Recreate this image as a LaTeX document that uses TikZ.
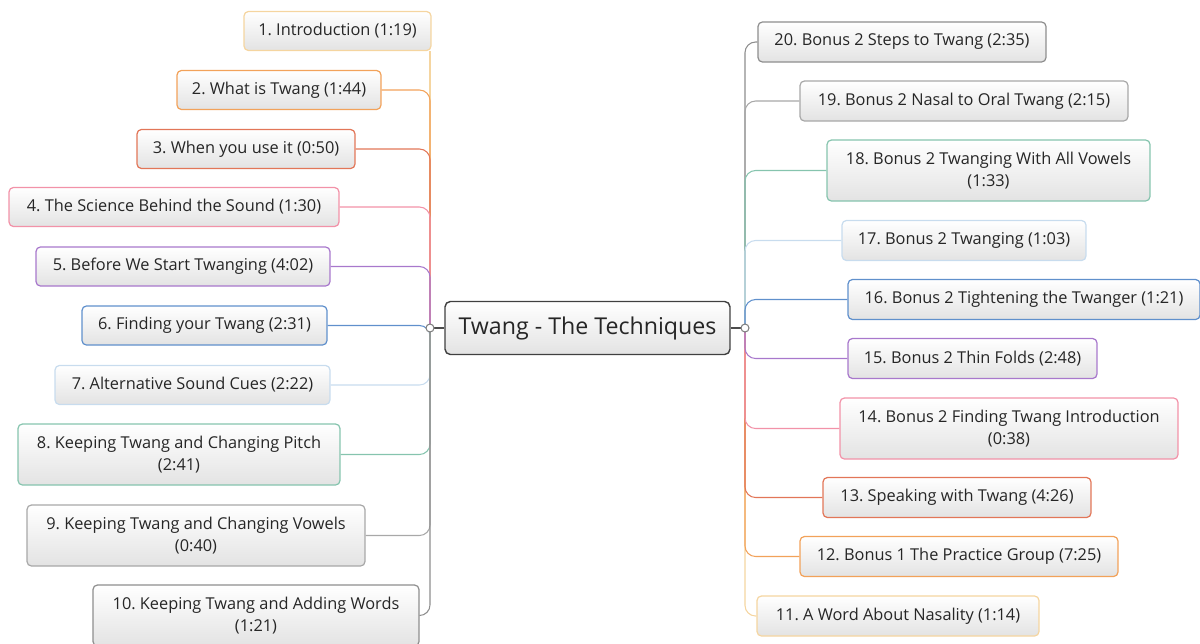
\documentclass[tikz,border=0pt]{standalone}
\usepackage{fontspec}
\setmainfont{Open Sans}
\usetikzlibrary{backgrounds}
\usepackage{xcolor}
\frenchspacing

\definecolor{cA}{HTML}{F5D5A0}
\definecolor{cB}{HTML}{F2A25A}
\definecolor{cC}{HTML}{E27658}
\definecolor{cD}{HTML}{F292A8}
\definecolor{cE}{HTML}{A878CC}
\definecolor{cF}{HTML}{6090CC}
\definecolor{cG}{HTML}{C8DCEE}
\definecolor{cH}{HTML}{86C4AE}
\definecolor{cI}{HTML}{A8A8A8}
\definecolor{cJ}{HTML}{8E8E8E}
\definecolor{ink}{HTML}{262626}

\tikzset{
 topic/.style={draw=#1, line width=0.7pt, rounded corners=2.5pt, top color=white, bottom color=gray!22,
   text=ink, font=\fontsize{9.3}{13}\selectfont, align=center, inner sep=2pt, minimum height=0.78cm},
 rootbox/.style={draw=black!75, line width=0.8pt, rounded corners=3pt, top color=white, bottom color=gray!22,
   text=ink, font=\fontsize{13.2}{16}\selectfont, minimum width=5.7cm, minimum height=1.06cm},
 hub/.style={circle, draw=gray, fill=white, line width=0.6pt, inner sep=0pt, minimum size=0.16cm},
 branch/.style={draw=#1, line width=0.6pt, rounded corners=6pt},
}

\begin{document}
\begin{tikzpicture}[x=0.02cm, y=-0.02cm]
\useasboundingbox (0,0) rectangle (1200,643);

\node[rootbox] (root) at (587.5,328) {Twang - The Techniques};
\node[hub] (lhub) at (430,328) {};
\node[hub] (rhub) at (745,328) {};

% left side
\node[topic=cA, minimum width=3.74cm] (t1) at (337.5,31) {1. Introduction (1:19)};
\node[topic=cB, minimum width=4.08cm] (t2) at (279,90) {2. What is Twang (1:44)};
\node[topic=cC, minimum width=4.36cm] (t3) at (246,149) {3. When you use it (0:50)};
\node[topic=cD, minimum width=6.6cm] (t4) at (174,207) {4. The Science Behind the Sound (1:30)};
\node[topic=cE, minimum width=5.88cm] (t5) at (183,266.5) {5. Before We Start Twanging (4:02)};
\node[topic=cF, minimum width=4.9cm] (t6) at (204.5,325.5) {6. Finding your Twang (2:31)};
\node[topic=cG, minimum width=5.5cm] (t7) at (192.5,385) {7. Alternative Sound Cues (2:22)};
\node[topic=cH, minimum width=6.44cm, minimum height=1.22cm] (t8) at (179,454.5) {8. Keeping Twang and Changing Pitch\\(2:41)};
\node[topic=cI, minimum width=6.76cm, minimum height=1.22cm] (t9) at (196,535.5) {9. Keeping Twang and Changing Vowels\\(0:40)};
\node[topic=cJ, minimum width=6.52cm, minimum height=1.22cm] (t10) at (256,615.5) {10. Keeping Twang and Adding Words\\(1:21)};

% right side
\node[topic=cJ, minimum width=5.76cm, minimum height=0.8cm] (t20) at (902,42) {20. Bonus 2 Steps to Twang (2:35)};
\node[topic=cI, minimum width=6.56cm, minimum height=0.8cm] (t19) at (964,101) {19. Bonus 2 Nasal to Oral Twang (2:15)};
\node[topic=cH, minimum width=6.46cm, minimum height=1.22cm] (t18) at (988.5,170.5) {18. Bonus 2 Twanging With All Vowels\\(1:33)};
\node[topic=cG, minimum width=4.88cm, minimum height=0.8cm] (t17) at (964,240.5) {17. Bonus 2 Twanging (1:03)};
\node[topic=cF, minimum width=7.04cm, minimum height=0.8cm] (t16) at (1024,299.5) {16. Bonus 2 Tightening the Twanger (1:21)};
\node[topic=cE, minimum width=4.98cm, minimum height=0.8cm] (t15) at (972.5,358.5) {15. Bonus 2 Thin Folds (2:48)};
\node[topic=cD, minimum width=6.76cm, minimum height=1.22cm] (t14) at (1009,428.5) {14. Bonus 2 Finding Twang Introduction\\(0:38)};
\node[topic=cC, minimum width=5.36cm, minimum height=0.8cm] (t13) at (957,497.5) {13. Speaking with Twang (4:26)};
\node[topic=cB, minimum width=6.36cm, minimum height=0.8cm] (t12) at (959,556.5) {12. Bonus 1 The Practice Group (7:25)};
\node[topic=cA, minimum width=5.64cm, minimum height=0.8cm] (t11) at (898,616) {11. A Word About Nasality (1:14)};

\begin{pgfonlayer}{background}
\draw[black!70, line width=0.8pt] (lhub.center) -- (root.west);
\draw[black!70, line width=0.8pt] (root.east) -- (rhub.center);
\draw[branch=cA] (lhub.center) -- (lhub.center |- t1.south);
\foreach \i/\c in {2/cB,3/cC,4/cD,5/cE,6/cF,7/cG,8/cH,9/cI,10/cJ}
  \draw[branch=\c] (lhub.center) |- (t\i.east);
\foreach \i/\c in {20/cJ,19/cI,18/cH,17/cG,16/cF,11/cA,12/cB,13/cC,14/cD,15/cE}
  \draw[branch=\c] (rhub.center) |- (t\i.west);
\end{pgfonlayer}
\end{tikzpicture}
\end{document}
